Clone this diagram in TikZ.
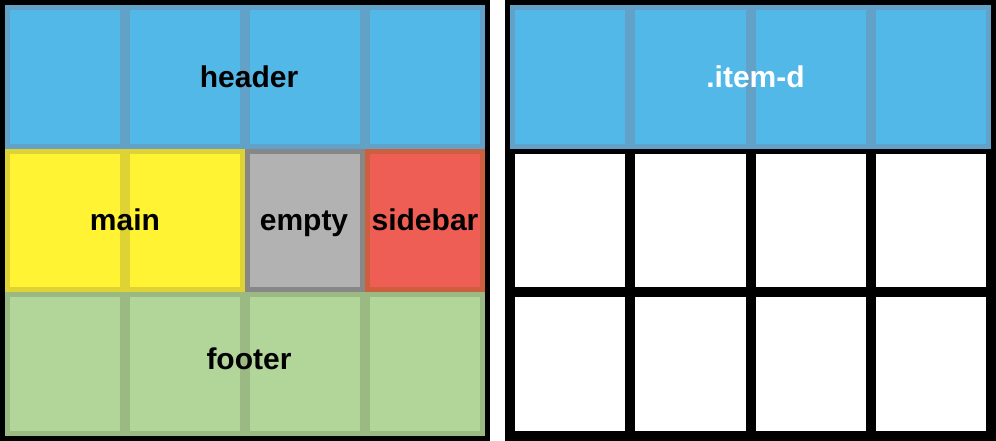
\documentclass[tikz,border=0pt]{standalone}
\usepackage{fontspec}
\setmainfont{Liberation Sans}
\usetikzlibrary{calc}
\definecolor{hblue}{RGB}{82,184,231}
\definecolor{hdark}{RGB}{98,161,200}
\definecolor{myyellow}{RGB}{255,243,51}
\definecolor{ydark}{RGB}{222,210,52}
\definecolor{mygray}{RGB}{178,178,178}
\definecolor{gdark}{RGB}{135,135,135}
\definecolor{myred}{RGB}{238,94,84}
\definecolor{rdark}{RGB}{205,95,62}
\definecolor{mygreen}{RGB}{178,214,153}
\definecolor{grdark}{RGB}{155,186,131}
\tikzset{
  area/.style={rectangle, inner sep=0pt, outer sep=0pt, draw=none, anchor=north west},
  lbl/.style={font=\fontsize{30}{36}\selectfont\bfseries, inner sep=0pt, anchor=base},
}
\begin{document}
\begin{tikzpicture}[x=1pt,y=-1pt]
\useasboundingbox[fill=white] (0,0) rectangle (996,441);
\pgfmathsetmacro{\rh}{143.667}
\pgfmathsetmacro{\ih}{133.667}
\pgfmathsetmacro{\rw}{120.25}
\pgfmathsetmacro{\iw}{110.25}
% containers
\node[area, fill=black, minimum width=490pt, minimum height=441pt] (leftgrid) at (0,0) {};
\node[area, fill=black, minimum width=491pt, minimum height=441pt] (rightgrid) at (505,0) {};
% ---- left grid ----
% header
\node[area, fill=hdark, minimum width=480pt, minimum height=\rh pt] (header) at (5,5) {};
\foreach \i in {0,...,3}
  \node[area, fill=hblue, minimum width=110pt, minimum height=\ih pt] (hc\i) at ({10+120*\i},10) {};
\node[lbl] (headerlbl) at ($(header.center)+(4,10.5)$) {header};
% main
\node[area, fill=ydark, minimum width=240pt, minimum height=\rh pt] (main) at (5,{5+\rh}) {};
\foreach \i in {0,1}
  \node[area, fill=myyellow, minimum width=110pt, minimum height=\ih pt] (mc\i) at ({10+120*\i},{10+\rh}) {};
\node[lbl] (mainlbl) at ($(main.center)+(0,10)$) {main};
% empty
\node[area, fill=gdark, minimum width=120pt, minimum height=\rh pt] (empty) at (245,{5+\rh}) {};
\node[area, fill=mygray, minimum width=110pt, minimum height=\ih pt] (ec) at (250,{10+\rh}) {};
\node[lbl] (emptylbl) at ($(empty.center)+(-1,10)$) {empty};
% sidebar
\node[area, fill=rdark, minimum width=120pt, minimum height=\rh pt] (sidebar) at (365,{5+\rh}) {};
\node[area, fill=myred, minimum width=110pt, minimum height=\ih pt] (sc) at (370,{10+\rh}) {};
\node[lbl] (sidebarlbl) at ($(sidebar.center)+(0,10)$) {sidebar};
% footer
\node[area, fill=grdark, minimum width=480pt, minimum height=\rh pt] (footer) at (5,{5+2*\rh}) {};
\foreach \i in {0,...,3}
  \node[area, fill=mygreen, minimum width=110pt, minimum height=\ih pt] (fc\i) at ({10+120*\i},{10+2*\rh}) {};
\node[lbl] (footerlbl) at ($(footer.center)+(4,5)$) {footer};
% ---- right grid ----
\node[area, fill=hdark, minimum width=481pt, minimum height=\rh pt] (itemd) at (510,5) {};
\foreach \i in {0,...,3}
  \node[area, fill=hblue, minimum width=\iw pt, minimum height=\ih pt] (ic\i) at ({515+\rw*\i},10) {};
\node[lbl, text=white] (itemdlbl) at ($(itemd.center)+(5,10.5)$) {.item-d};
\foreach \r in {1,2}
  \foreach \i in {0,...,3}
    \node[area, fill=white, minimum width=\iw pt, minimum height=\ih pt] (w\r\i) at ({515+\rw*\i},{10+\rh*\r}) {};
\end{tikzpicture}
\end{document}
